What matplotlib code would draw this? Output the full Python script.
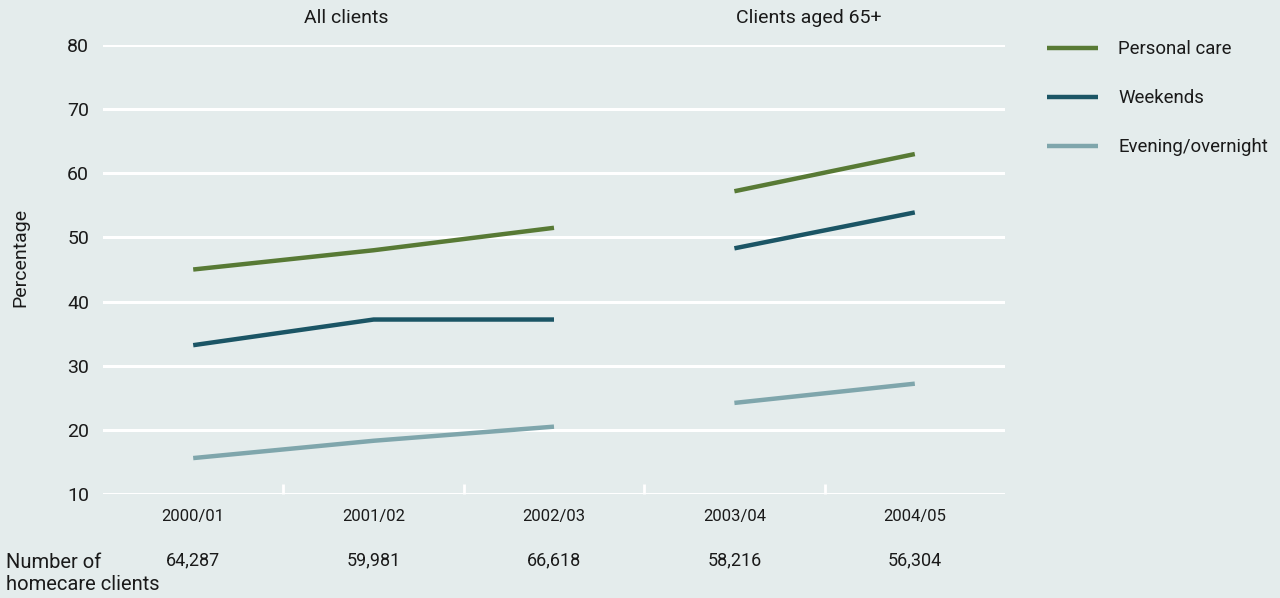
import numpy as np
import matplotlib.pyplot as plt
from matplotlib import font_manager
from matplotlib.lines import Line2D

# pick a narrow sans if available
names = {f.name for f in font_manager.fontManager.ttflist}
family = 'Liberation Sans Narrow' if 'Liberation Sans Narrow' in names else 'Roboto'
plt.rcParams['font.family'] = [family, 'DejaVu Sans']

years = ['2000/01', '2001/02', '2002/03', '2003/04', '2004/05']
clients = ['64,287', '59,981', '66,618', '58,216', '56,304']
personal_care = [45.0, 48.0, 51.5, 57.2, 63.0]
weekends = [33.2, 37.2, 37.2, 48.3, 53.9]
evening = [15.6, 18.3, 20.5, 24.2, 27.2]
groups = [(0, 3), (3, 5)]  # all clients / clients aged 65+

bg = '#e4ecec'
text_col = '#1a1a1a'
series = [
    ('Personal care', personal_care, '#587a35'),
    ('Weekends', weekends, '#1b5565'),
    ('Evening/overnight', evening, '#7fa6ac'),
]

fig = plt.figure(figsize=(12.8, 5.98), dpi=100, facecolor=bg)
ax = fig.add_axes([103 / 1280, 1 - 494 / 598, 902 / 1280, 449 / 598])
ax.set_facecolor(bg)

x = np.arange(len(years)) + 0.5
for name, vals, col in series:
    vals = np.array(vals)
    for a, b in groups:
        ax.plot(x[a:b], vals[a:b], color=col, lw=3.2, solid_capstyle='butt', zorder=3)

ax.set_xlim(0, len(years))
ax.set_ylim(10, 80)
ax.set_yticks(range(10, 81, 10))
ax.grid(axis='y', color='white', lw=2.2)
ax.set_axisbelow(True)
for s in ax.spines.values():
    s.set_visible(False)

ax.set_xticks(np.arange(1, len(years)))
ax.set_xticklabels([])
ax.tick_params(axis='x', direction='in', length=7.5, width=2, color='white')
ax.tick_params(axis='y', length=0, pad=10, labelsize=14, labelcolor=text_col)

fig.text(20 / 1280, 1 - 257 / 598, 'Percentage', rotation=90, ha='center', va='center',
         fontsize=14, color=text_col)

# category labels and client counts under the axis
for xi, yr, n in zip(x, years, clients):
    ax.text(xi, -0.05, yr, transform=ax.get_xaxis_transform(), ha='center', va='center',
            fontsize=12, color=text_col)
    ax.text(xi, -0.148, n, transform=ax.get_xaxis_transform(), ha='center', va='center',
            fontsize=13, color=text_col)
fig.text(6 / 1280, 1 - 562 / 598, 'Number of', ha='left', va='center', fontsize=14.5, color=text_col)
fig.text(6 / 1280, 1 - 585 / 598, 'homecare clients', ha='left', va='center', fontsize=14.5, color=text_col)

# group headers
ax.text(1.35, 1.061, 'All clients', transform=ax.get_xaxis_transform(), ha='center', va='center',
        fontsize=14, color=text_col)
ax.text(3.91, 1.061, 'Clients aged 65+', transform=ax.get_xaxis_transform(), ha='center', va='center',
        fontsize=14, color=text_col)

# legend
for i, (name, vals, col) in enumerate(series):
    yy = 1 - (48 + 49 * i) / 598
    fig.add_artist(Line2D([1047 / 1280, 1098 / 1280], [yy, yy], color=col, lw=3.2,
                          solid_capstyle='butt', transform=fig.transFigure))
    fig.text(1118 / 1280, yy - 0.002, name, ha='left', va='center', fontsize=13.4, color=text_col)

fig.savefig('out.png', dpi=100, facecolor=bg)
